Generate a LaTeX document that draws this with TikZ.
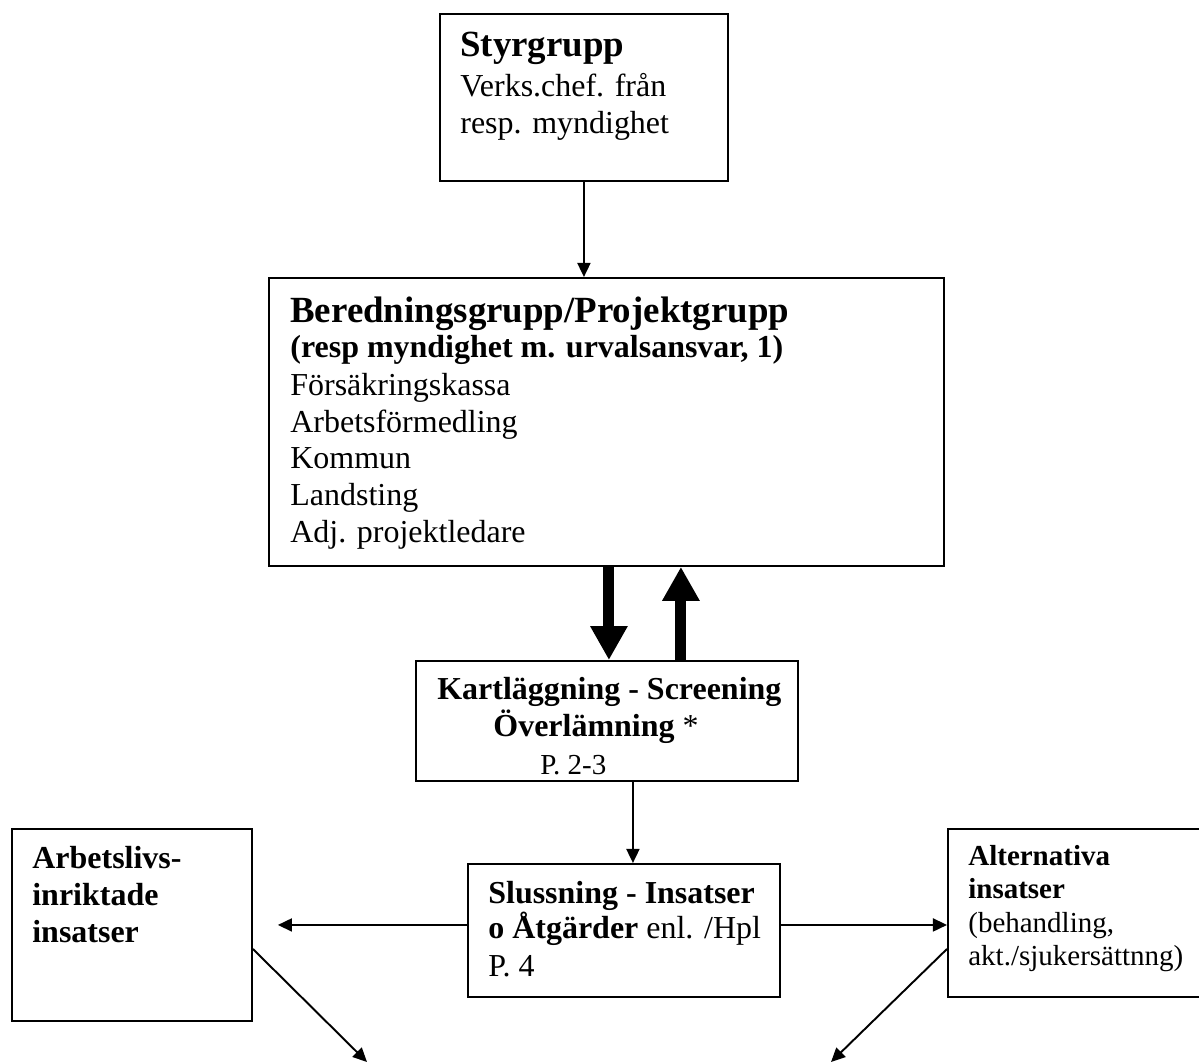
\documentclass[tikz,border=0pt]{standalone}
\usepackage{fontspec}
\setmainfont{Liberation Serif}
\usetikzlibrary{arrows.meta, positioning}
\tikzstyle{box} = [rectangle, draw=black, line width=1.1pt, anchor=north west, inner sep=0pt]
\tikzstyle{txt} = [inner sep=0pt, align=left, font=\fontsize{18.2pt}{21pt}\selectfont]
\tikzstyle{arrow} = [line width=1.1pt, -{Triangle[length=8pt, width=7.4pt]}]
\tikzstyle{bigarrow} = [line width=6.3pt, -{Triangle[length=19.3pt, width=20pt]}]

\begin{document}
\begin{tikzpicture}[x=0.02cm, y=-0.02cm]
	\useasboundingbox (0,0) rectangle (1199,1062);
	\node (styr) [box, minimum width=5.76cm, minimum height=3.34cm] at (439,13) {};
	\node (bered) [box, minimum width=13.5cm, minimum height=5.76cm] at (268,277) {};
	\node (kart) [box, minimum width=7.64cm, minimum height=2.4cm] at (415,660) {};
	\node (sluss) [box, minimum width=6.24cm, minimum height=2.66cm] at (467,863) {};
	\node (arbliv) [box, minimum width=4.8cm, minimum height=3.84cm] at (11,828) {};
	\node (altern) [box, minimum width=5.12cm, minimum height=3.36cm] at (947,828) {};
	\coordinate (endl) at (367,1062);
	\coordinate (endr) at (831,1062);
	\node (styrtxt) [txt, font=\fontsize{18.2pt}{21pt}\selectfont, below right=0.38cm and 0.42cm of styr.north west] {{\fontsize{21pt}{21pt}\selectfont\bfseries Styrgrupp}\\[1.8pt] Verks.chef. från\\ resp. myndighet};
	\node (beredtxt) [txt, font=\fontsize{18.2pt}{20.9pt}\selectfont, below right=0.39cm and 0.44cm of bered.north west] {{\fontsize{21pt}{21pt}\selectfont\bfseries Beredningsgrupp/Projektgrupp}\\[-1pt] \textbf{(resp myndighet m. urvalsansvar, 1)}\\[0.7pt] Försäkringskassa\\ Arbetsförmedling\\ Kommun\\ Landsting\\ Adj. projektledare};
	\node (karttxt) [txt, font=\fontsize{18.2pt}{21pt}\selectfont, below right=0.34cm and 0.44cm of kart.north west] {\textbf{Kartläggning - Screening}\\ \hspace*{31.9pt}\textbf{Överlämning} *\\[0.8pt] \hspace*{58.6pt}{\fontsize{16.5pt}{16.5pt}\selectfont P. 2-3}};
	\node (slusstxt) [txt, font=\fontsize{18.2pt}{20pt}\selectfont, below right=0.36cm and 0.42cm of sluss.north west] {\textbf{Slussning - Insatser}\\ \textbf{o Åtgärder} enl. /Hpl\\[1.5pt] P. 4};
	\node (arblivtxt) [txt, font=\fontsize{18.2pt}{21pt}\selectfont\bfseries, below right=0.36cm and 0.42cm of arbliv.north west] {Arbetslivs-\\ inriktade\\ insatser};
	\node (alterntxt) [txt, font=\fontsize{16.5pt}{19pt}\selectfont, below right=0.34cm and 0.42cm of altern.north west] {\textbf{Alternativa}\\ \textbf{insatser}\\ (behandling,\\ akt./sjukersättnng)};
	\draw [arrow] (styr.south) -- (styr.south |- bered.north);
	\draw [bigarrow] ([xshift=0.04cm]kart.north |- bered.south) -- ([xshift=0.04cm]kart.north);
	\draw [bigarrow] ([xshift=1.48cm]kart.north) -- ([xshift=1.48cm]kart.north |- bered.south);
	\draw [arrow] ([xshift=0.18cm]sluss.north |- kart.south) -- ([xshift=0.18cm]sluss.north);
	\draw [arrow] (sluss.west |- arbliv.east) -- ([xshift=0.5cm]arbliv.east);
	\draw [arrow] (sluss.east |- arbliv.east) -- (altern.west |- arbliv.east);
	\draw [arrow] ([yshift=-0.48cm]arbliv.east) -- (endl);
	\draw [arrow] ([yshift=-0.72cm]altern.west) -- (endr);
\end{tikzpicture}
\end{document}
